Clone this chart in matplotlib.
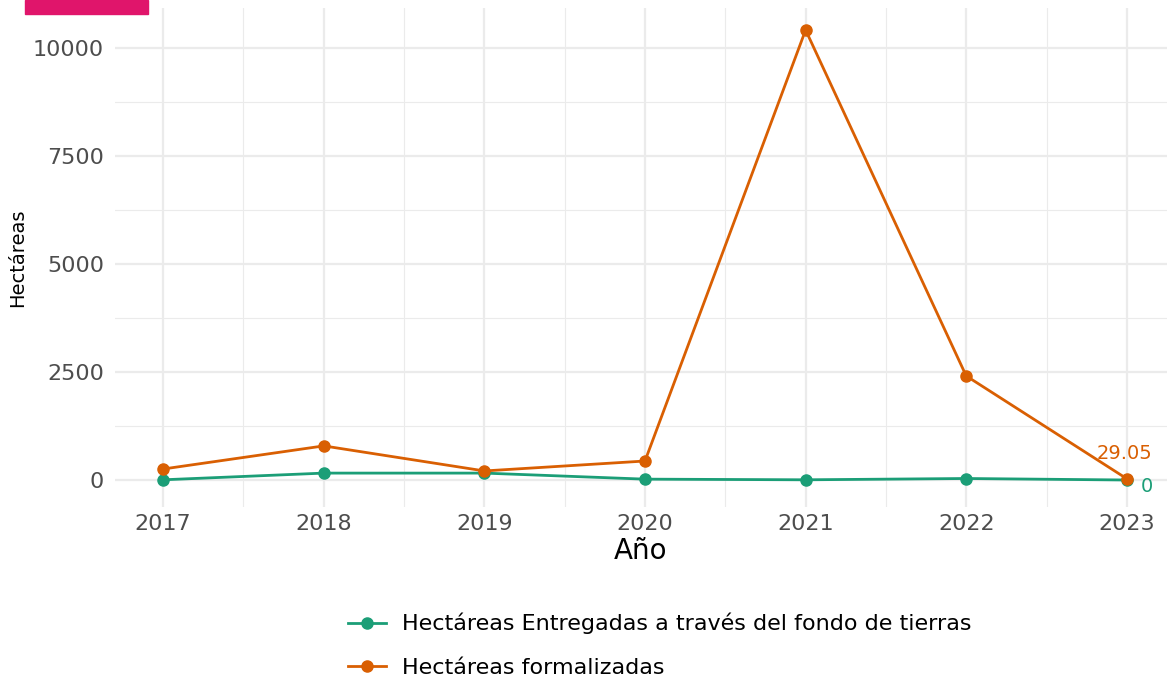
import matplotlib.pyplot as plt
import matplotlib.patches as mpatches
from matplotlib.ticker import MultipleLocator

# data
years = [2017, 2018, 2019, 2020, 2021, 2022, 2023]
entregadas = [5, 160, 160, 20, 5, 35, 0]
formalizadas = [255, 790, 210, 440, 10420, 2410, 29.05]

green = '#1b9e77'
orange = '#d95f02'

fig = plt.figure(figsize=(11.67, 6.81), dpi=100)
ax = fig.add_axes([0.0985, 0.2555, 0.9015, 0.7325])

ax.plot(years, entregadas, color=green, lw=2, marker='o', ms=8,
        label='Hectáreas Entregadas a través del fondo de tierras', zorder=3)
ax.plot(years, formalizadas, color=orange, lw=2, marker='o', ms=8,
        label='Hectáreas formalizadas', zorder=3)

ax.annotate(f'{formalizadas[-1]:.2f}', (years[-1], formalizadas[-1]),
            xytext=(-2, 11), textcoords='offset points', ha='center', va='bottom',
            color=orange, fontsize=14)
ax.annotate(f'{entregadas[-1]:g}', (years[-1], entregadas[-1]),
            xytext=(10, -5), textcoords='offset points', ha='left', va='center',
            color=green, fontsize=14)

ax.set_xlim(2016.7, 2023.25)
ax.set_ylim(-625, 10926)
ax.set_xticks(years)
ax.yaxis.set_major_locator(MultipleLocator(2500))
ax.xaxis.set_minor_locator(MultipleLocator(0.5))
ax.yaxis.set_minor_locator(MultipleLocator(1250))
ax.grid(which='major', color='#ebebeb', lw=1.6)
ax.grid(which='minor', color='#ebebeb', lw=0.8)
ax.set_axisbelow(True)
for s in ax.spines.values():
    s.set_visible(False)
ax.tick_params(which='both', length=0, labelsize=16, labelcolor='#4d4d4d')
ax.tick_params(axis='y', pad=8)
ax.tick_params(axis='x', pad=5)

ax.set_xlabel('Año', fontsize=20, labelpad=2)
ax.set_ylabel('Hectáreas', fontsize=14, labelpad=4)

fig.legend(*ax.get_legend_handles_labels(), loc='upper left',
           bbox_to_anchor=(348 / 1167, 1 - 613 / 681), frameon=False,
           fontsize=16, ncol=1, handlelength=1.7, handletextpad=0.75,
           labelspacing=1.05, borderpad=0, borderaxespad=0)

# pink badge at top-left (cropped)
fig.patches.append(mpatches.Rectangle((25 / 1167, 1 - 14 / 681), 123 / 1167, 14 / 681,
                                      transform=fig.transFigure, color='#e0156b'))

fig.savefig('out.png', dpi=100)
